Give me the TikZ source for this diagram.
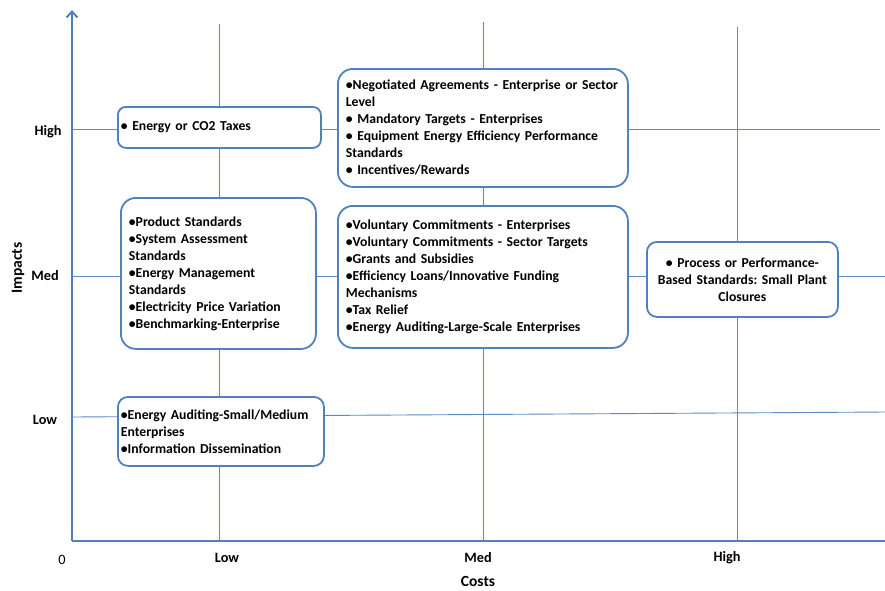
\documentclass[tikz,border=0pt]{standalone}
\usepackage{fontspec}
\setmainfont{Carlito}
\usetikzlibrary{arrows.meta}
\definecolor{axisblue}{HTML}{4F81BD}
\definecolor{gridblue}{HTML}{5B8AC6}
\frenchspacing
\begin{document}
\begin{tikzpicture}[x=1pt,y=-1pt,
  box/.style={draw=axisblue, line width=1.8pt, fill=white, rounded corners=#1,
    align=left, font=\bfseries\fontsize{13.7}{17}\selectfont\frenchspacing, anchor=north west,
    inner ysep=0pt},
  gridline/.style={draw=gridblue, line width=0.9pt},
  axisline/.style={draw=axisblue, line width=2.8pt},
  lbl/.style={font=\bfseries\fontsize{14.3}{16}\selectfont, inner sep=0pt}]
\useasboundingbox (0,0) rectangle (885,590);
% coordinates
\coordinate (origin) at (72,541);
\coordinate (ytop) at (72,10);
\coordinate (xend) at (885,541);
\coordinate (v1t) at (219,24); \coordinate (v1b) at (219,541);
\coordinate (v2t) at (483,22); \coordinate (v2b) at (483,541);
\coordinate (v3t) at (737,27); \coordinate (v3b) at (737,541);
\coordinate (h1l) at (72,129); \coordinate (h1r) at (880,129);
\coordinate (h2l) at (72,276); \coordinate (h2r) at (885,276);
\coordinate (h3l) at (72,417); \coordinate (h3r) at (885,412);
% grid
\draw[gridline] (v1t) -- (v1b);
\draw[gridline] (v2t) -- (v2b);
\draw[gridline] (v3t) -- (v3b);
\draw[gridline] (h1l) -- (h1r);
\draw[gridline] (h2l) -- (h2r);
\draw[gridline] (h3l) -- (h3r);
% axes
\draw[axisline] (origin) -- (xend);
\draw[axisline, -{Straight Barb[length=6pt,width=11pt,line width=2pt]}] (origin) -- (ytop);
% boxes
\node[box=8pt, text width=197pt, inner xsep=3pt, minimum height=41pt] (taxes) at (117,106)
  {• Energy or CO2 Taxes};
\node[box=15pt, text width=274pt, inner xsep=8pt, minimum height=118pt] (nego) at (337,68)
  {•Negotiated Agreements - Enterprise or Sector\\Level\\• Mandatory Targets - Enterprises\\• Equipment Energy Efficiency Performance\\Standards\\• Incentives/Rewards};
\node[box=15pt, text width=179pt, inner xsep=8pt, minimum height=151pt] (prod) at (120,197)
  {•Product Standards\\•System Assessment\\Standards\\•Energy Management\\Standards\\•Electricity Price Variation\\•Benchmarking-Enterprise};
\node[box=15pt, text width=274pt, inner xsep=8pt, minimum height=142pt] (vol) at (337,205)
  {•Voluntary Commitments - Enterprises\\•Voluntary Commitments - Sector Targets\\•Grants and Subsidies\\•Efficiency Loans/Innovative Funding\\Mechanisms\\•Tax Relief\\•Energy Auditing-Large-Scale Enterprises};
\node[box=10pt, align=center, text width=181pt, inner xsep=5pt, minimum height=75pt] (proc) at (646,241)
  {• Process or Performance-\\Based Standards: Small Plant\\Closures};
\node[box=10pt, text width=200pt, inner xsep=3pt, minimum height=69pt] (audit) at (117,396)
  {•Energy Auditing-Small/Medium\\Enterprises\\•Information Dissemination};
% axis labels
\node[lbl] (yhigh) at (48,132) {High};
\node[lbl] (ymed) at (45,276) {Med};
\node[lbl] (ylow) at (45,420) {Low};
\node[font=\fontsize{14.3}{16}\selectfont, inner sep=0pt] (zero) at (62,560) {0};
\node[lbl] (xlow) at (227,558) {Low};
\node[lbl] (xmed) at (478,558) {Med};
\node[lbl] (xhigh) at (727,558) {High};
\node[lbl, font=\bfseries\fontsize{15.5}{18}\selectfont] (costs) at (478,581) {Costs};
\node[lbl, font=\bfseries\fontsize{15.5}{18}\selectfont, rotate=90] (impacts) at (18,268) {Impacts};
\end{tikzpicture}
\end{document}
